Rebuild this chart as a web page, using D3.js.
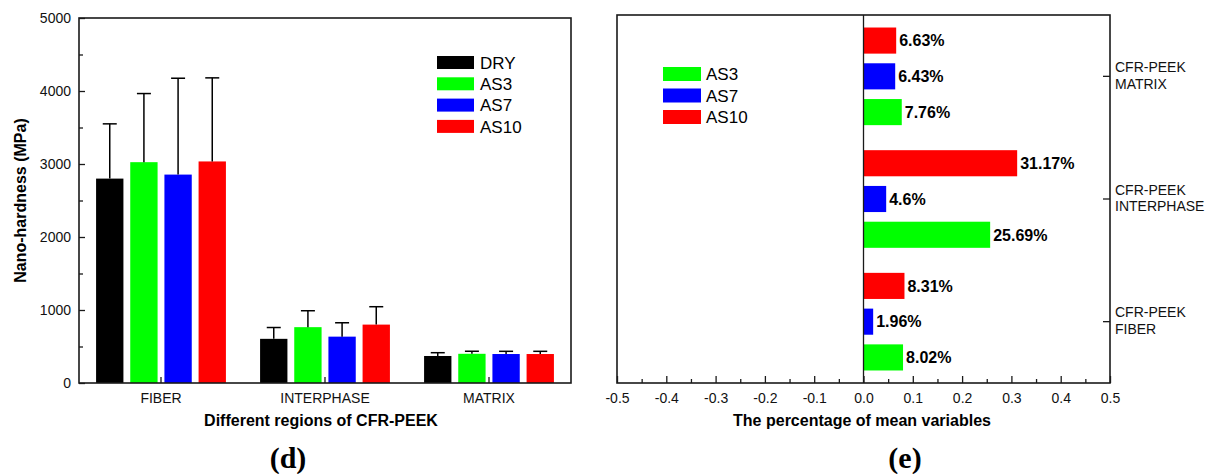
<!DOCTYPE html>
<html>
<head>
<meta charset="utf-8">
<script src="https://cdn.jsdelivr.net/npm/d3@7"></script>
<style>
    body { margin: 0; background: #fff; }
    svg { display: block; font-family: Arial, "Liberation Sans", sans-serif; }
</style>
</head>
<body>
<svg id="chart" width="1205" height="474"></svg>
<script>
// panel (d): nano-hardness by region
const regions = ['FIBER', 'INTERPHASE', 'MATRIX'];
const conditions = ['DRY', 'AS3', 'AS7', 'AS10'];
const meanDRY = [2800, 605, 370];
const meanAS3 = [3025, 765, 400];
const meanAS7 = [2855, 635, 397];
const meanAS10 = [3035, 800, 397];
const sdDRY = [750, 155, 45];
const sdAS3 = [940, 225, 35];
const sdAS7 = [1320, 190, 37];
const sdAS10 = [1145, 245, 37];
const hardnessTicks = [0, 1000, 2000, 3000, 4000, 5000];

// panel (e): percentage change of the mean
const pctRegions = ['MATRIX', 'INTERPHASE', 'FIBER'];
const pctSeries = ['AS10', 'AS7', 'AS3'];
const legendSeries = ['AS3', 'AS7', 'AS10'];
const pctAS3 = [7.76, 25.69, 8.02];
const pctAS7 = [6.43, 4.6, 1.96];
const pctAS10 = [6.63, 31.17, 8.31];
const pctLabels = { AS3: ['7.76%', '25.69%', '8.02%'], AS7: ['6.43%', '4.6%', '1.96%'], AS10: ['6.63%', '31.17%', '8.31%'] };
const pctTicks = d3.range(-5, 6).map(i => i / 10);

const svg = d3.select('#chart');
const color = d3.scaleOrdinal()
    .domain(conditions)
    .range(['#000000', '#00ff00', '#0000ff', '#ff0000']);
const frameColor = '#1a1a1a';
const sans = 'Arial, "Liberation Sans", sans-serif';

// ---------- left chart ----------
const L = { left: 79, right: 571, top: 18, bottom: 383 };

const x0 = d3.scaleBand().domain(regions).range([L.left, L.right]);
const x1 = d3.scaleBand().domain(conditions)
    .range([0, x0.bandwidth()])
    .paddingInner(0.2)
    .paddingOuter(0.5);
const y = d3.scaleLinear().domain([0, 5000]).range([L.bottom, L.top]);

const means = { DRY: meanDRY, AS3: meanAS3, AS7: meanAS7, AS10: meanAS10 };
const sds = { DRY: sdDRY, AS3: sdAS3, AS7: sdAS7, AS10: sdAS10 };
const barData = [];
regions.forEach((r, i) => {
    conditions.forEach(c => {
        barData.push({ region: r, cond: c, mean: means[c][i], sd: sds[c][i] });
    });
});

const left = svg.append('g');

left.selectAll('rect.bar')
    .data(barData)
    .join('rect')
    .attr('class', 'bar')
    .attr('x', d => x0(d.region) + x1(d.cond))
    .attr('y', d => y(d.mean))
    .attr('width', x1.bandwidth())
    .attr('height', d => y(0) - y(d.mean))
    .attr('fill', d => color(d.cond));

// upper error bars only
const err = left.selectAll('g.err')
    .data(barData)
    .join('g')
    .attr('class', 'err')
    .attr('stroke', '#000')
    .attr('stroke-width', 1.5);

err.append('line')
    .attr('x1', d => x0(d.region) + x1(d.cond) + x1.bandwidth() / 2)
    .attr('x2', d => x0(d.region) + x1(d.cond) + x1.bandwidth() / 2)
    .attr('y1', d => y(d.mean))
    .attr('y2', d => y(d.mean + d.sd));

err.append('line')
    .attr('x1', d => x0(d.region) + x1(d.cond) + x1.bandwidth() / 2 - 7)
    .attr('x2', d => x0(d.region) + x1(d.cond) + x1.bandwidth() / 2 + 7)
    .attr('y1', d => y(d.mean + d.sd))
    .attr('y2', d => y(d.mean + d.sd));

// axes
left.append('g')
    .attr('transform', `translate(${L.left},0)`)
    .call(d3.axisLeft(y).tickValues(hardnessTicks).tickSize(-6).tickPadding(8).tickFormat(d3.format('d')));
left.append('g')
    .attr('transform', `translate(${L.left},0)`)
    .call(d3.axisLeft(y).tickValues(d3.range(500, 5000, 1000)).tickSize(-4).tickFormat(''));

left.append('g')
    .attr('transform', `translate(0,${L.bottom})`)
    .call(d3.axisBottom(x0).tickSize(-6).tickPadding(10));

left.selectAll('.domain').remove();
left.selectAll('.tick line').attr('stroke', frameColor).attr('stroke-width', 1.3);
left.selectAll('.tick text').attr('font-size', 14).attr('font-family', sans).attr('fill', '#111');

left.append('rect')
    .attr('x', L.left)
    .attr('y', L.top)
    .attr('width', L.right - L.left)
    .attr('height', L.bottom - L.top)
    .attr('fill', 'none')
    .attr('stroke', frameColor)
    .attr('stroke-width', 1.6);

left.append('text')
    .attr('transform', `translate(20,${(L.top + L.bottom) / 2}) rotate(-90)`)
    .attr('text-anchor', 'middle')
    .attr('dy', '0.35em')
    .attr('font-size', 16)
    .attr('font-weight', 'bold')
    .text('Nano-hardness (MPa)');

left.append('text')
    .attr('x', 321)
    .attr('y', 426)
    .attr('text-anchor', 'middle')
    .attr('font-size', 16)
    .attr('font-weight', 'bold')
    .text('Different regions of CFR-PEEK');

left.append('text')
    .attr('x', 288)
    .attr('y', 468)
    .attr('text-anchor', 'middle')
    .attr('font-family', '"Liberation Serif", "Times New Roman", serif')
    .attr('font-size', 30)
    .attr('font-weight', 'bold')
    .text('(d)');

// legend
const legL = left.append('g').attr('transform', 'translate(437,56)');
const legLItem = legL.selectAll('g')
    .data(conditions)
    .join('g')
    .attr('transform', (d, i) => `translate(0,${i * 21.3})`);
legLItem.append('rect')
    .attr('width', 37)
    .attr('height', 13)
    .attr('fill', d => color(d));
legLItem.append('text')
    .attr('x', 43)
    .attr('y', 6.5)
    .attr('dy', '0.36em')
    .attr('font-size', 17)
    .text(d => d);

// ---------- right chart ----------
const R = { left: 617, right: 1110, top: 15, bottom: 383 };

const xr = d3.scaleLinear().domain([-0.5, 0.5]).range([R.left, R.right]);
const yr0 = d3.scaleBand().domain(pctRegions).range([R.top, R.bottom]);
const yr1 = d3.scaleBand().domain(pctSeries)
    .range([0, yr0.bandwidth()])
    .paddingInner(0.27)
    .paddingOuter(0.35);

const pcts = { AS3: pctAS3, AS7: pctAS7, AS10: pctAS10 };
const hbarData = [];
pctRegions.forEach((r, i) => {
    pctSeries.forEach(s => {
        hbarData.push({ region: r, series: s, value: pcts[s][i] / 100, label: pctLabels[s][i] });
    });
});

const right = svg.append('g');

right.selectAll('rect.hbar')
    .data(hbarData)
    .join('rect')
    .attr('class', 'hbar')
    .attr('x', xr(0))
    .attr('y', d => yr0(d.region) + yr1(d.series))
    .attr('width', d => xr(d.value) - xr(0))
    .attr('height', yr1.bandwidth())
    .attr('fill', d => color(d.series));

right.selectAll('text.val')
    .data(hbarData)
    .join('text')
    .attr('class', 'val')
    .attr('x', d => xr(d.value) + 3)
    .attr('y', d => yr0(d.region) + yr1(d.series) + yr1.bandwidth() / 2)
    .attr('dy', '0.36em')
    .attr('font-size', 16)
    .attr('font-weight', 'bold')
    .text(d => d.label);

// zero line
right.append('line')
    .attr('x1', xr(0))
    .attr('x2', xr(0))
    .attr('y1', R.top)
    .attr('y2', R.bottom)
    .attr('stroke', frameColor)
    .attr('stroke-width', 1.3);

right.append('g')
    .attr('transform', `translate(0,${R.bottom})`)
    .call(d3.axisBottom(xr).tickValues(pctTicks).tickSize(-7).tickPadding(10)
        .tickFormat(d => d.toFixed(1)));
right.append('g')
    .attr('transform', `translate(0,${R.bottom})`)
    .call(d3.axisBottom(xr).tickValues(d3.range(-9, 10, 2).map(i => i / 20)).tickSize(-4).tickFormat(''));

right.append('g')
    .attr('transform', `translate(${R.right},0)`)
    .call(d3.axisRight(yr0).tickSize(-7).tickFormat(''));

right.selectAll('.domain').remove();
right.selectAll('.tick line').attr('stroke', frameColor).attr('stroke-width', 1.3);
right.selectAll('.tick text').attr('font-size', 14).attr('font-family', sans).attr('fill', '#111');

// two-line category labels on the right
const catLabel = right.selectAll('text.cat')
    .data(pctRegions)
    .join('text')
    .attr('class', 'cat')
    .attr('x', R.right + 5)
    .attr('y', d => yr0(d) + yr0.bandwidth() / 2)
    .attr('font-size', 14)
    .attr('fill', '#111');
catLabel.append('tspan')
    .attr('x', R.right + 5)
    .attr('dy', '-0.3em')
    .text('CFR-PEEK');
catLabel.append('tspan')
    .attr('x', R.right + 5)
    .attr('dy', '1.18em')
    .text(d => d);

right.append('rect')
    .attr('x', R.left)
    .attr('y', R.top)
    .attr('width', R.right - R.left)
    .attr('height', R.bottom - R.top)
    .attr('fill', 'none')
    .attr('stroke', frameColor)
    .attr('stroke-width', 1.6);

right.append('text')
    .attr('x', 862)
    .attr('y', 426)
    .attr('text-anchor', 'middle')
    .attr('font-size', 16)
    .attr('font-weight', 'bold')
    .text('The percentage of mean variables');

right.append('text')
    .attr('x', 905)
    .attr('y', 468)
    .attr('text-anchor', 'middle')
    .attr('font-family', '"Liberation Serif", "Times New Roman", serif')
    .attr('font-size', 30)
    .attr('font-weight', 'bold')
    .text('(e)');

// legend
const legR = right.append('g').attr('transform', 'translate(663,67)');
const legRItem = legR.selectAll('g')
    .data(legendSeries)
    .join('g')
    .attr('transform', (d, i) => `translate(0,${i * 21.5})`);
legRItem.append('rect')
    .attr('width', 38)
    .attr('height', 14)
    .attr('fill', d => color(d));
legRItem.append('text')
    .attr('x', 43)
    .attr('y', 7)
    .attr('dy', '0.36em')
    .attr('font-size', 17)
    .text(d => d);
</script>
</body>
</html>
